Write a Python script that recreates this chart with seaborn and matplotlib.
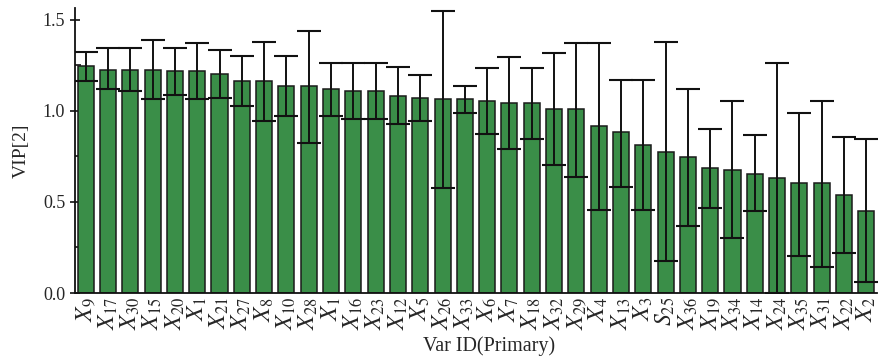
import matplotlib
matplotlib.use("Agg")
import matplotlib.pyplot as plt
from matplotlib.ticker import MultipleLocator
import seaborn as sns
import pandas as pd
import numpy as np

labels = ["X_{9}", "X_{17}", "X_{30}", "X_{15}", "X_{20}", "X_{1}", "X_{21}", "X_{27}", "X_{8}",
          "X_{10}", "X_{28}", "X_{1}", "X_{16}", "X_{23}", "X_{12}", "X_{5}", "X_{26}", "X_{33}",
          "X_{6}", "X_{7}", "X_{18}", "X_{32}", "X_{29}", "X_{4}", "X_{13}", "X_{3}", "S_{25}",
          "X_{36}", "X_{19}", "X_{34}", "X_{14}", "X_{24}", "X_{35}", "X_{31}", "X_{22}", "X_{2}"]
vip = [1.245, 1.226, 1.226, 1.226, 1.219, 1.219, 1.200, 1.164, 1.164,
       1.134, 1.134, 1.120, 1.109, 1.109, 1.083, 1.072, 1.065, 1.065,
       1.053, 1.044, 1.044, 1.009, 1.009, 0.917, 0.883, 0.811, 0.774,
       0.748, 0.684, 0.675, 0.656, 0.629, 0.603, 0.603, 0.539, 0.448]
err_low = [1.164, 1.120, 1.109, 1.065, 1.090, 1.065, 1.072, 1.028, 0.943,
           0.973, 0.826, 0.973, 0.954, 0.954, 0.927, 0.945, 0.574, 0.991,
           0.871, 0.790, 0.846, 0.702, 0.638, 0.458, 0.583, 0.458, 0.176,
           0.366, 0.467, 0.303, 0.449, 0.000, 0.204, 0.142, 0.222, 0.061]
err_high = [1.325, 1.344, 1.344, 1.388, 1.344, 1.373, 1.333, 1.303, 1.381,
            1.303, 1.441, 1.261, 1.261, 1.261, 1.243, 1.197, 1.550, 1.134,
            1.234, 1.298, 1.234, 1.318, 1.371, 1.371, 1.171, 1.171, 1.381,
            1.118, 0.901, 1.055, 0.866, 1.263, 0.991, 1.055, 0.855, 0.846]

ids = [f"{i}" for i in range(len(labels))]
df = pd.DataFrame({"id": ids, "vip": vip})

sns.set_theme(style="white")
plt.rcParams["font.family"] = ["Liberation Serif", "DejaVu Serif"]
plt.rcParams["mathtext.fontset"] = "stix"

fig = plt.figure(figsize=(8.83, 3.59), dpi=100)
ax = fig.add_axes([75 / 883, 1 - 293 / 359, (877 - 75) / 883, (293 - 8) / 359])

sns.barplot(data=df, x="id", y="vip", order=ids, color="#3a8e48", saturation=1,
            width=0.72, edgecolor="#1a1a1a", linewidth=1.1, ax=ax, errorbar=None)

pos = np.arange(len(labels))
vals = np.array(vip)
yerr = np.vstack([vals - np.array(err_low), np.array(err_high) - vals])
ax.errorbar(pos, vals, yerr=yerr, fmt="none", ecolor="#111111", elinewidth=1.4,
            capsize=8.6, capthick=1.5, zorder=5)

ax.set_xlim(-0.48, len(labels) - 0.52)
ax.set_ylim(0, 1.565)
ax.set_xticks(pos)
ax.set_xticklabels([f"${l}$" for l in labels], rotation=90, fontsize=17)
ax.tick_params(axis="x", length=0, pad=3)
ax.yaxis.set_major_locator(MultipleLocator(0.5))
ax.yaxis.set_minor_locator(MultipleLocator(0.25))
ax.set_yticks([0, 0.5, 1.0, 1.5])
ax.set_yticklabels(["0.0", "0.5", "1.0", "1.5"], fontsize=13)
ax.tick_params(axis="y", which="major", direction="inout", length=7, width=1.2, color="#111111", left=True)
ax.tick_params(axis="y", which="minor", direction="in", length=4, width=1.2, color="#111111", left=True)

for s in ["top", "right"]:
    ax.spines[s].set_visible(False)
for s in ["left", "bottom"]:
    ax.spines[s].set_color("#111111")
    ax.spines[s].set_linewidth(1.3)

ax.set_xlabel("Var ID(Primary)", fontsize=14.5, labelpad=5)
ax.xaxis.set_label_coords((489.5 - 75) / (877 - 75), -0.187)
ax.xaxis.label.set_verticalalignment("center")
ax.set_ylabel("VIP[2]", fontsize=14, labelpad=9)

fig.savefig("out.png", dpi=100, facecolor="white")
